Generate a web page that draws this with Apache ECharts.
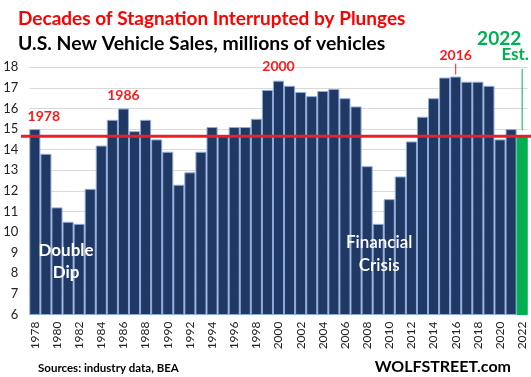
<!DOCTYPE html>
<html><head><meta charset="utf-8">
<script src="https://cdn.jsdelivr.net/npm/echarts@6/dist/echarts.min.js"></script>
<style>html,body{margin:0;padding:0;background:#fff}#c{width:531px;height:377px}</style>
</head><body><div id="c"></div>
<script>
const years = ["1978","1979","1980","1981","1982","1983","1984","1985","1986","1987","1988","1989","1990","1991","1992","1993","1994","1995","1996","1997","1998","1999","2000","2001","2002","2003","2004","2005","2006","2007","2008","2009","2010","2011","2012","2013","2014","2015","2016","2017","2018","2019","2020","2021","2022"];
const sales = [15.0,13.8,11.2,10.5,10.4,12.1,14.2,15.45,16.0,14.9,15.45,14.5,13.9,12.3,12.9,13.9,15.1,14.7,15.1,15.1,15.5,16.9,17.35,17.1,16.8,16.6,16.85,16.95,16.5,16.1,13.2,10.4,11.6,12.7,14.4,15.6,16.5,17.5,17.55,17.3,17.3,17.1,14.5,15.0,14.65];
const estimateYear = "2022";
const referenceLevel = 14.65;
const yTicks = [6,7,8,9,10,11,12,13,14,15,16,17,18];
const peakYears = ["1978","1986","2000","2016"];

const FONT = 'Lato';
const chart = echarts.init(document.getElementById('c'), null, {renderer:'canvas'});
const barData = sales.map((v,i)=> years[i]===estimateYear
  ? {value:v, itemStyle:{color:'#00B050', borderColor:'#00B050'}}
  : v);

chart.setOption({
  animation:false,
  backgroundColor:'#fff',
  title:[
    {text:'Decades of Stagnation Interrupted by Plunges', left:13, top:4,
     textStyle:{fontFamily:FONT, fontWeight:'bold', fontSize:19, color:'#FF0000'}},
    {text:'U.S. New Vehicle Sales, millions of vehicles', left:13, top:29,
     textStyle:{fontFamily:FONT, fontWeight:'bold', fontSize:19.4, color:'#000'}},
    {text:'Sources: industry data, BEA', left:33, top:357,
     textStyle:{fontFamily:FONT, fontWeight:'bold', fontSize:11.5, color:'#000'}},
    {text:'WOLFSTREET.com', right:15, top:354,
     textStyle:{fontFamily:FONT, fontWeight:'bold', fontSize:16, color:'#000'}}
  ],
  grid:{left:29.3, right:3.3, top:67.3, bottom:62.5, containLabel:false},
  xAxis:{type:'category', data:years, boundaryGap:true,
    axisLine:{lineStyle:{color:'#D9D9D9'}}, axisTick:{show:false},
    axisLabel:{interval:1, rotate:90, margin:7, fontFamily:FONT, fontSize:12, color:'#222'}},
  yAxis:{type:'value', min:yTicks[0], max:yTicks[yTicks.length-1], interval:1,
    axisLine:{show:false}, axisTick:{show:false},
    splitLine:{lineStyle:{color:'#D9D9D9', width:1}},
    axisLabel:{margin:11, fontFamily:FONT, fontSize:13, color:'#222'}},
  series:[{type:'bar', data:barData, barWidth:'100%', barCategoryGap:0,
    itemStyle:{color:'#1F3864', borderColor:'#8EA9DB', borderWidth:1}}]
});

function px(cat,val){ return chart.convertToPixel({xAxisIndex:0,yAxisIndex:0},[cat,val]); }
const g = [];
const refY = px(years[0], referenceLevel)[1];
g.push({type:'line', z:100, shape:{x1:21, y1:refY, x2:531, y2:refY}, style:{stroke:'#E8202A', lineWidth:3}});
const red = '#FF1A1A';
const labelOff = {"1978":[9,-6], "1986":[0,-6], "2000":[0,-7], "2016":[0,-14]};
peakYears.forEach(y=>{
  const i = years.indexOf(y);
  const p = px(y, sales[i]);
  const o = labelOff[y];
  g.push({type:'text', z:100, x:p[0]+o[0], y:p[1]+o[1],
    style:{text:y, fill:red, font:'bold 14px '+FONT, textAlign:'center', textVerticalAlign:'bottom'}});
  if(y==="2016"){
    g.push({type:'line', z:100, shape:{x1:p[0], y1:p[1]-13, x2:p[0], y2:p[1]-2}, style:{stroke:red, lineWidth:1}});
  }
});
// estimate annotation
const pe = px(estimateYear, referenceLevel);
g.push({type:'line', z:100, shape:{x1:pe[0], y1:69, x2:pe[0], y2:pe[1]-6}, style:{stroke:'#00B050', lineWidth:1}});
g.push({type:'text', z:100, x:pe[0]-23, y:48, style:{text:'2022', fill:'#00B050', font:'bold 19px '+FONT, textAlign:'center', textVerticalAlign:'bottom'}});
g.push({type:'text', z:100, x:pe[0]-7, y:63, style:{text:'Est.', fill:'#00B050', font:'bold 17px '+FONT, textAlign:'center', textVerticalAlign:'bottom'}});
// white text
const cx1 = px("1981",0)[0]-2;
g.push({type:'text', z:100, x:cx1, y:px("1981",9.1)[1], style:{text:'Double', fill:'#fff', font:'bold 17px '+FONT, textAlign:'center', textVerticalAlign:'middle'}});
g.push({type:'text', z:100, x:cx1, y:px("1981",8.05)[1], style:{text:'Dip', fill:'#fff', font:'bold 17px '+FONT, textAlign:'center', textVerticalAlign:'middle'}});
const cx2 = px("2009",0)[0]+1;
g.push({type:'text', z:100, x:cx2, y:px("2009",9.5)[1], style:{text:'Financial', fill:'#fff', font:'600 17px '+FONT, textAlign:'center', textVerticalAlign:'middle'}});
g.push({type:'text', z:100, x:cx2, y:px("2009",8.4)[1], style:{text:'Crisis', fill:'#fff', font:'600 17px '+FONT, textAlign:'center', textVerticalAlign:'middle'}});
chart.setOption({graphic:g});
</script></body></html>
